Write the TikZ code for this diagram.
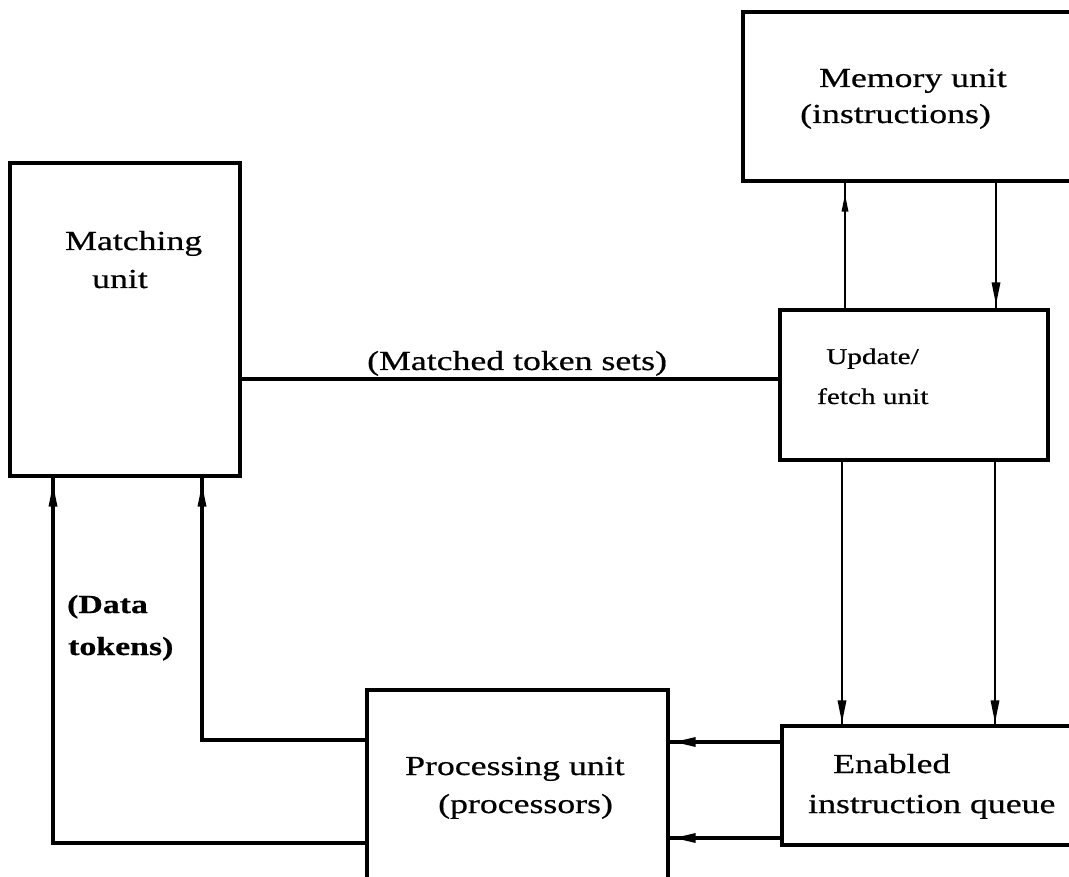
\documentclass[tikz,border=0pt]{standalone}
\usepackage{fontspec}
\setmainfont[FakeStretch=1.3,FakeBold=0.6]{Liberation Serif}
\begin{document}
\begin{tikzpicture}[x=1pt,y=-1pt,
  unitbox/.style={draw,line width=3.3pt,rectangle,inner sep=0pt},
  lbl/.style={anchor=base west,inner sep=0pt,font=\fontsize{27.5}{33}\selectfont},
  smalllbl/.style={lbl,font=\fontsize{22.5}{27}\selectfont},
  boldlbl/.style={lbl,font=\fontsize{26}{31}\selectfont\bfseries},
  wire/.style={line width=2.6pt},
  heavywire/.style={line width=3.9pt},
  % slim filled arrowheads, tip at the pic origin
  tipup/.pic={\fill (0,0) -- (-4.5,22) -- (4.5,22) -- cycle;},
  tipdown/.pic={\fill (0,0) -- (-4.5,-22) -- (4.5,-22) -- cycle;},
  tipleft/.pic={\fill (0,0) -- (21,-5) -- (21,5) -- cycle;},
  smalltipup/.pic={\fill (0,0) -- (-3.5,17) -- (3.5,17) -- cycle;}
]
\clip (0,0) rectangle (1069,877);
\fill[white] (0,0) rectangle (1069,877);

% the five units
\node[unitbox,minimum width=230pt,minimum height=313pt] (match) at (125,319.5) {};
\node[unitbox,minimum width=337pt,minimum height=169pt] (mem)   at (911.5,96.5) {};
\node[unitbox,minimum width=268pt,minimum height=150pt] (upd)   at (914,385) {};
\node[unitbox,minimum width=298pt,minimum height=119pt] (enab)  at (931,785.5) {};
\node[unitbox,minimum width=301pt,minimum height=205pt] (proc)  at (517.5,792.5) {};

% unit labels
\node[lbl] (matchA) at (65,250) {Matching};
\node[lbl] (matchB) at (92,288) {unit};
\node[lbl] (memA) at (819,87) {Memory unit};
\node[lbl] (memB) at (800,123) {(instructions)};
\node[smalllbl] (updA) at (826,364) {Update/};
\node[smalllbl] (updB) at (817,404) {fetch unit};
\node[lbl] (enabA) at (833,773) {Enabled};
\node[lbl] (enabB) at (808,813) {instruction queue};
\node[lbl] (procA) at (405,775) {Processing unit};
\node[lbl] (procB) at (438,813) {(processors)};

% connector positions
\coordinate (xa) at (845,0);
\coordinate (xb) at (996,0);
\coordinate (xc) at (842,0);
\coordinate (xd) at (995,0);
\coordinate (xm1) at (202,0);
\coordinate (xm2) at (53,0);
\coordinate (ym) at (0,379);
\coordinate (yq1) at (0,742);
\coordinate (yq2) at (0,838);
\coordinate (yp1) at (0,740);
\coordinate (yp2) at (0,843);

% memory <-> update/fetch
\draw[wire] (upd.north -| xa) -- (mem.south -| xa);
\pic at ([yshift=-12pt]mem.south -| xa) {smalltipup};
\draw[wire] (mem.south -| xb) -- (upd.north -| xb);
\pic at ([yshift=4pt]upd.north -| xb) {tipdown};

% matched token sets
\draw[heavywire] (match.east |- ym) -- (upd.west |- ym);
\node[lbl] (mtsl) at (367,370) {(Matched token sets)};

% update/fetch -> enabled queue
\draw[wire] (upd.south -| xc) -- (enab.north -| xc);
\pic at ([yshift=2pt]enab.north -| xc) {tipdown};
\draw[wire] (upd.south -| xd) -- (enab.north -| xd);
\pic at ([yshift=2pt]enab.north -| xd) {tipdown};

% enabled queue -> processing
\draw[heavywire] (enab.west |- yq1) -- (proc.east |- yq1);
\pic at ([xshift=5pt]proc.east |- yq1) {tipleft};
\draw[heavywire] (enab.west |- yq2) -- (proc.east |- yq2);
\pic at ([xshift=5pt]proc.east |- yq2) {tipleft};

% processing -> matching (data tokens)
\draw[heavywire] (proc.west |- yp1) -| (match.south -| xm1);
\pic at ([yshift=-7pt]match.south -| xm1) {tipup};
\draw[heavywire] (proc.west |- yp2) -| (match.south -| xm2);
\pic at ([yshift=-7pt]match.south -| xm2) {tipup};
\node[boldlbl] (dtA) at (67,613) {(Data};
\node[boldlbl] (dtB) at (68,655) {tokens)};
\end{tikzpicture}
\end{document}
